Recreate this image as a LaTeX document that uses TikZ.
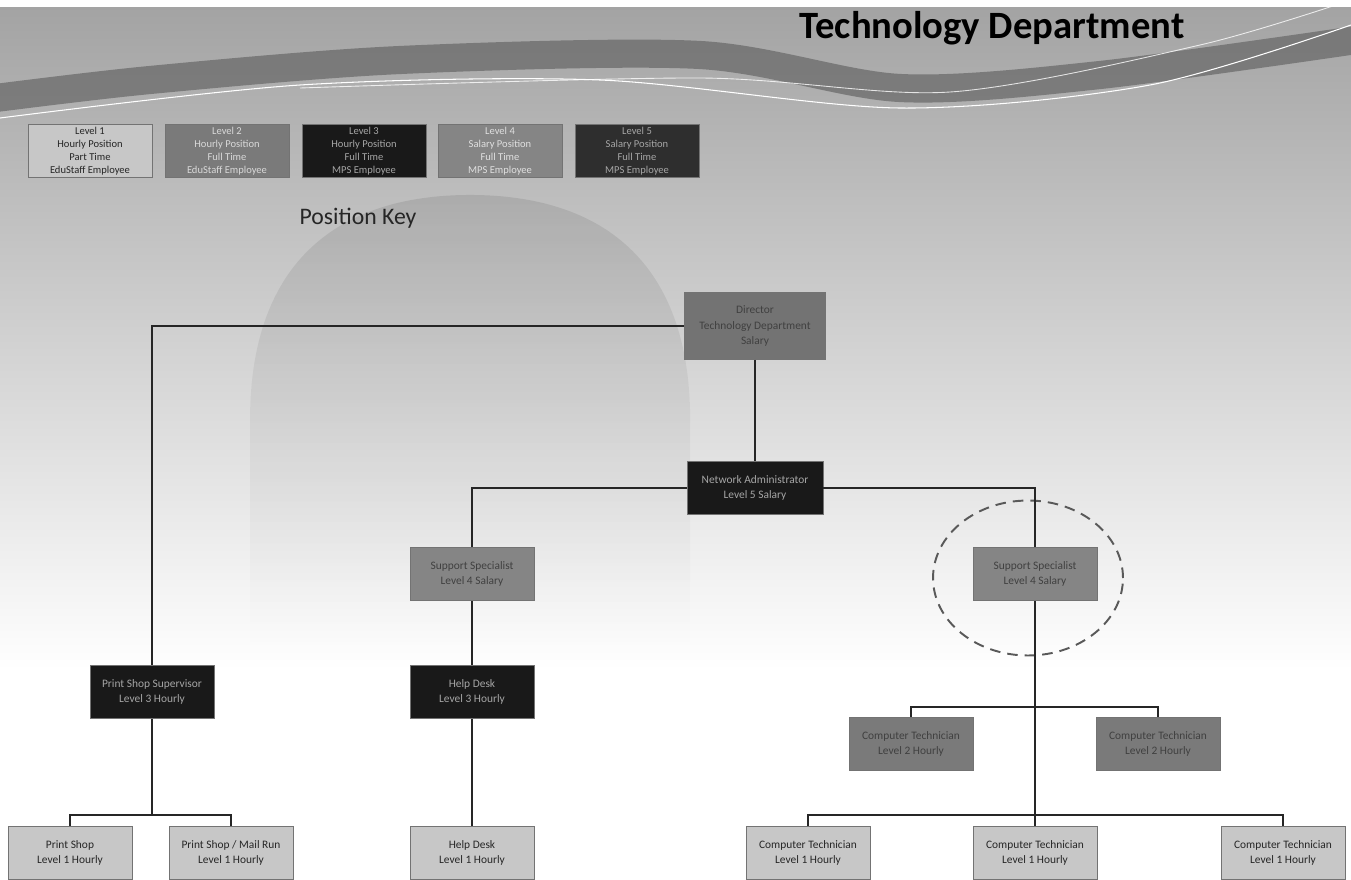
\documentclass[tikz,border=0pt]{standalone}
\usepackage{fontspec}
\setmainfont{Carlito}
\usetikzlibrary{positioning, shapes.geometric, fadings}

\begin{document}
\begin{tikzpicture}[x=0.02cm, y=-0.02cm,
    posbox/.style={draw=black!55, minimum width=2.48cm, minimum height=1.07cm, align=center, inner sep=1pt, font=\fontsize{6.5}{9}\selectfont},
    keybox/.style={posbox, font=\fontsize{6}{7.4}\selectfont},
    lone/.style={fill=black!22, text=black!85},
    ltwo/.style={fill=black!52, text=black!15},
    lthree/.style={fill=black!90, text=black!35},
    lfour/.style={fill=black!48, text=black!12},
    lfive/.style={fill=black!82, text=black!35},
    link/.style={draw=black!85, line width=0.8pt}
]
    % page and background
    \useasboundingbox (0,0) rectangle (1351,879);
    \begin{scope}
    \clip (0,0) rectangle (1351,879);
    \fill[white] (0,0) rectangle (1351,879);
    \shade[top color=black!36, middle color=black!22, bottom color=white] (0,7) rectangle (1351,670);
    \fill[black, opacity=.09, path fading=south] (250,650) -- (250,420) .. controls (250,260) and (340,195) .. (470,195) .. controls (600,195) and (690,260) .. (690,420) -- (690,650) -- cycle;
    \draw[black!60, opacity=.7, line width=16pt] plot[smooth] coordinates {(-20,100) (150,80) (400,60) (700,55) (900,88) (1100,75) (1370,38)};
    \draw[white, line width=0.6pt] plot[smooth] coordinates {(0,118) (300,85) (600,80) (900,108) (1150,85) (1351,25)};
    \draw[white, line width=0.5pt, opacity=.8] plot[smooth] coordinates {(300,88) (700,78) (950,92) (1200,45) (1351,0)};
    \end{scope}

    \node[font=\fontsize{22}{26}\selectfont\bfseries] (title) at (992,28) {Technology Department};

    % position key
    \node[keybox, lone] (key1) at (90,151) {Level 1\\Hourly Position\\Part Time\\EduStaff Employee};
    \node[keybox, ltwo] (key2) at (227,151) {Level 2\\Hourly Position\\Full Time\\EduStaff Employee};
    \node[keybox, lthree] (key3) at (364,151) {Level 3\\Hourly Position\\Full Time\\MPS Employee};
    \node[keybox, lfour] (key4) at (500,151) {Level 4\\Salary Position\\Full Time\\MPS Employee};
    \node[keybox, lfive] (key5) at (637,151) {Level 5\\Salary Position\\Full Time\\MPS Employee};
    \node[font=\fontsize{13.5}{16}\selectfont, text=black!85] (keylabel) at (358,218) {Position Key};

    % chart
    \node[posbox, fill=black!55, text=black!75, minimum width=2.82cm, minimum height=1.34cm] (dir) at (755,326) {Director\\Technology Department\\Salary};
    \node[posbox, lthree, minimum width=2.72cm] (netadm) at (755,488) {Network Administrator\\Level 5 Salary};
    \node[posbox, lfour, text=black!75] (suppl) at (472,574) {Support Specialist\\Level 4 Salary};
    \node[posbox, lfour, text=black!75] (suppr) at (1035,574) {Support Specialist\\Level 4 Salary};
    \node[draw=black!65, dash pattern=on 6pt off 4pt, line width=1.1pt, ellipse, minimum width=3.8cm, minimum height=3.1cm] (ring) at (1028,578) {};
    \node[posbox, lthree] (psup) at (152,692) {Print Shop Supervisor\\Level 3 Hourly};
    \node[posbox, lthree] (desk3) at (472,692) {Help Desk\\Level 3 Hourly};
    \node[posbox, ltwo, text=black!75] (tecbl) at (911,744) {Computer Technician\\Level 2 Hourly};
    \node[posbox, ltwo, text=black!75] (tecbr) at (1158,744) {Computer Technician\\Level 2 Hourly};

    \node[posbox, lone] (shop) at (70,853) {Print Shop\\Level 1 Hourly};
    \node[posbox, lone] (mail) at (231,853) {Print Shop / Mail Run\\Level 1 Hourly};
    \node[posbox, lone] (desk1) at (472,853) {Help Desk\\Level 1 Hourly};
    \node[posbox, lone] (teca) at (808,853) {Computer Technician\\Level 1 Hourly};
    \node[posbox, lone] (tecc) at (1035,853) {Computer Technician\\Level 1 Hourly};
    \node[posbox, lone] (tece) at (1283,853) {Computer Technician\\Level 1 Hourly};

    \coordinate (shopbar) at (152,815);
    \coordinate (tecbar) at (1035,707);
    \coordinate (teclow) at (1035,815);

    \draw[link] (psup.north) |- (dir.west);
    \draw[link] (dir) -- (netadm);
    \draw[link] (suppl.north) |- (netadm.west);
    \draw[link] (suppr.north) |- (netadm.east);
    \draw[link] (suppl) -- (desk3);
    \draw[link] (desk3) -- (desk1);
    \draw[link] (psup.south) -- (shopbar);
    \draw[link] (shop.north) |- (shopbar) -| (mail.north);
    \draw[link] (suppr.south) -- (tecc.north);
    \draw[link] (tecbl.north) |- (tecbar) -| (tecbr.north);
    \draw[link] (teca.north) |- (teclow) -| (tece.north);
\end{tikzpicture}
\end{document}
